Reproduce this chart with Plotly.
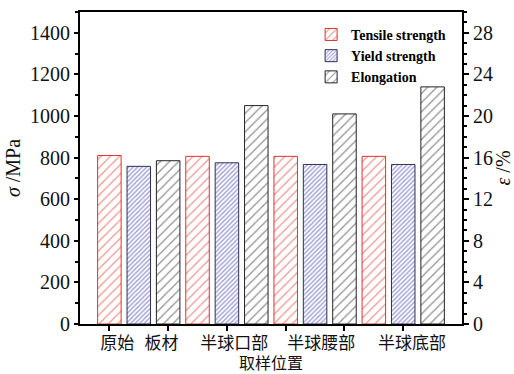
import plotly.graph_objects as go

# Sampling locations and measured properties
locations = ["原始板材", "半球口部", "半球腰部", "半球底部"]
label_text = ["原始", "板材", "半球口部", "半球腰部", "半球底部"]
label_pos = [0.27, 1.77, 4.25, 7.21, 10.3]
tensile = [810, 806, 806, 806]      # MPa
yield_s = [758, 775, 767, 767]      # MPa
elongation = [15.7, 21.0, 20.2, 22.8]  # %

series = ["Tensile strength", "Yield strength", "Elongation"]
left_ticks = [0, 200, 400, 600, 800, 1000, 1200, 1400]
right_ticks = [0, 4, 8, 12, 16, 20, 24, 28]

SERIF = "Liberation Serif, Times New Roman, serif"
CJK = "Noto Sans CJK SC, sans-serif"

n = len(locations)
x_t = [3 * i for i in range(n)]
x_y = [3 * i + 1 for i in range(n)]
x_e = [3 * i + 2 for i in range(n)]

fig = go.Figure()
fig.add_trace(go.Bar(
    x=x_t, y=tensile, name=series[0], width=0.8,
    marker=dict(color="white", line=dict(color="#e03030", width=1),
                pattern=dict(shape="/", fgcolor="#e03c3c", bgcolor="white",
                             size=6.5, solidity=0.22)),
))
fig.add_trace(go.Bar(
    x=x_y, y=yield_s, name=series[1], width=0.8,
    marker=dict(color="white", line=dict(color="#2e2e5a", width=1),
                pattern=dict(shape="/", fgcolor="#3838b0", bgcolor="white",
                             size=3.2, solidity=0.42)),
))
fig.add_trace(go.Bar(
    x=x_e, y=elongation, name=series[2], width=0.8, yaxis="y2",
    marker=dict(color="white", line=dict(color="#222222", width=1),
                pattern=dict(shape="/", fgcolor="#222222", bgcolor="white",
                             size=6.5, solidity=0.2)),
))
# carrier for the category label axis
fig.add_trace(go.Scatter(x=[label_pos[0]], y=[0], xaxis="x2", mode="markers",
                         marker=dict(opacity=0), showlegend=False, hoverinfo="skip"))

xr = [-1, 3 * n]
fig.update_layout(
    width=514, height=374,
    margin=dict(l=80, r=52, t=12, b=50, autoexpand=False),
    paper_bgcolor="white", plot_bgcolor="white",
    barmode="overlay",
    showlegend=True,
    legend=dict(x=0.605, y=0.978, xanchor="left", yanchor="top",
                bgcolor="rgba(0,0,0,0)", tracegroupgap=0,
                font=dict(family=SERIF, size=14, color="black", weight="bold"),
                itemwidth=30),
    xaxis=dict(range=xr, tickvals=[0, 2, 4, 6, 8, 10], showticklabels=False,
               ticks="outside", ticklen=5, tickwidth=1.5, tickcolor="black",
               showline=True, linecolor="black", linewidth=2, mirror=True,
               showgrid=False, zeroline=False, automargin=False,
               title=dict(text="取样位置", standoff=42,
                          font=dict(family=CJK, size=16, color="#111"))),
    xaxis2=dict(range=xr, overlaying="x", side="bottom", anchor="y",
                tickvals=label_pos, ticktext=label_text, ticks="",
                ticklabelstandoff=7, automargin=False,
                showline=False, showgrid=False, zeroline=False,
                tickfont=dict(family=CJK, size=17, color="#111")),
    yaxis=dict(range=[0, 1500], tickvals=left_ticks, ticks="outside",
               ticklen=4, tickwidth=1.5, tickcolor="black",
               minor=dict(dtick=100, ticks="outside", ticklen=3, tickcolor="black"),
               showline=True, linecolor="black", linewidth=2,
               showgrid=False, zeroline=False, automargin=False,
               tickfont=dict(family=SERIF, size=20, color="#111"),
               title=dict(text="<i>σ</i> /MPa", standoff=4,
                          font=dict(family=SERIF, size=20, color="#111"))),
    yaxis2=dict(range=[0, 30], tickvals=right_ticks, overlaying="y", side="right",
                ticks="outside", ticklen=5, tickwidth=1.5, tickcolor="black",
                minor=dict(dtick=1, ticks="outside", ticklen=3, tickcolor="black"),
                showline=True, linecolor="black", linewidth=2,
                showgrid=False, zeroline=False, automargin=False,
                tickfont=dict(family=SERIF, size=20, color="#111"),
                title=dict(text="<i>ε</i> /%", standoff=8,
                           font=dict(family=SERIF, size=20, color="#111"))),
)

fig.write_html("out.html")
